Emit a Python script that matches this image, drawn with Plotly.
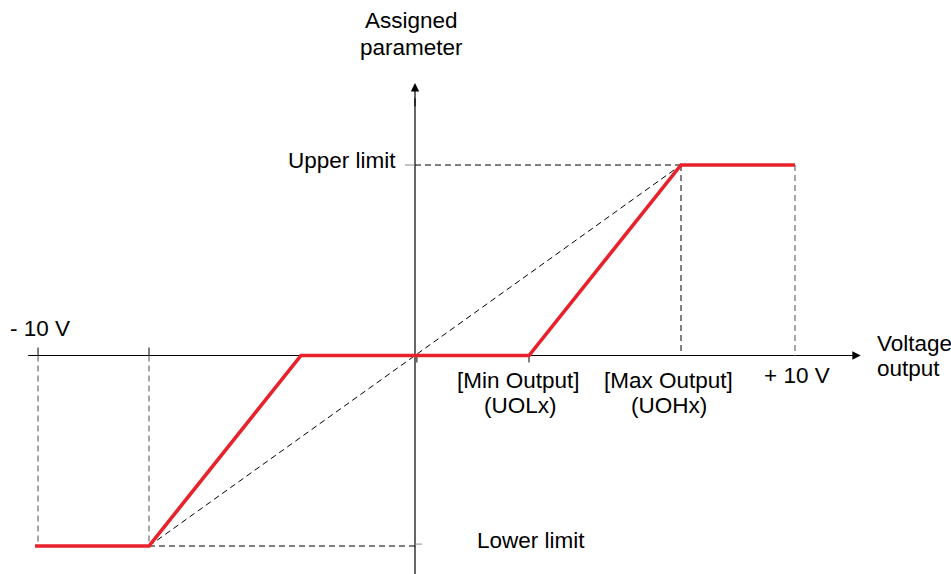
import plotly.graph_objects as go

# ---- data ----
curve_x = [-10, -7, -3, 3, 7, 10]          # voltage output (V)
curve_y = [-1, -1, 0, 0, 1, 1]             # assigned parameter (lower .. upper limit)
v_min, v_max = -10, 10
min_output, max_output = 3, 7
lower_limit, upper_limit = -1, 1
neg_knee = -7

RED = "#e8212b"
GREY = "#8a8a8a"
FONT = "Liberation Sans, Arial, sans-serif"
FS = 22.5

fig = go.Figure()

shapes = []
def line(x0, y0, x1, y1, color="black", width=1, dash=None, layer="below"):
    d = dict(type="line", xref="x", yref="y", x0=x0, y0=y0, x1=x1, y1=y1,
             line=dict(color=color, width=width), layer=layer)
    if dash:
        d["line"]["dash"] = dash
    shapes.append(d)

# axes
line(-10.18, 0, 11.5, 0, width=1.2)
line(0, -1.153, 0, 1.35, width=1.2)

# dashed guides
DASH = "6px,4px"
line(neg_knee, lower_limit, max_output, upper_limit, width=1, dash=DASH)
line(0, upper_limit, max_output, upper_limit, width=1, dash=DASH)
line(max_output, upper_limit, max_output, 0, width=1, dash=DASH)
line(v_max, upper_limit, v_max, 0, color=GREY, width=1.5, dash=DASH)
line(v_min + 0.08, 0, v_min + 0.08, lower_limit, color=GREY, width=1.5, dash=DASH)
line(neg_knee, 0, neg_knee, lower_limit, color=GREY, width=1.5, dash=DASH)
line(neg_knee, lower_limit, 0, lower_limit, width=1, dash=DASH)

# ticks
px_x = 1 / 38.0
px_y = 1 / 190.5
line(v_min + 0.08, 0, v_min + 0.08, 8 * px_y, width=1)
line(neg_knee, 0, neg_knee, 8 * px_y, width=1)
line(0.05, 0, 0.05, -7 * px_y, width=1)
line(min_output, 0, min_output, -7 * px_y, width=1)
line(-10 * px_x, upper_limit, 0, upper_limit, color=GREY, width=1)
line(0, lower_limit + 0.01, 7 * px_x, lower_limit + 0.01, color=GREY, width=1)

fig.add_trace(go.Scatter(x=curve_x, y=curve_y, mode="lines",
                         line=dict(color=RED, width=3.6), hoverinfo="skip"))

ann = []
def text(t, x, y, xanchor="center", xshift=0, yshift=0):
    ann.append(dict(text=t, x=x, y=y, xref="x", yref="y", showarrow=False,
                    xanchor=xanchor, yanchor="middle", xshift=xshift, yshift=yshift,
                    font=dict(family=FONT, size=FS, color="black"), align="center"))

# arrow heads
ann.append(dict(x=11.73, y=0, ax=11.2, ay=0, xref="x", yref="y", axref="x", ayref="y",
                showarrow=True, arrowhead=2, arrowsize=1.4, arrowwidth=1.2,
                arrowcolor="black", text=""))
ann.append(dict(x=0, y=1.43, ax=0, ay=1.30, xref="x", yref="y", axref="x", ayref="y",
                showarrow=True, arrowhead=2, arrowsize=1.4, arrowwidth=1.2,
                arrowcolor="black", text=""))

y_top = 355.5 / 190.5
text("Assigned", 0, y_top, xshift=-4, yshift=-20)
text("parameter", 0, y_top, xshift=-4, yshift=-47)
text("Upper limit", 0, upper_limit, xanchor="right", xshift=-17, yshift=5)
text("- 10 V", v_min, 0, xanchor="left", xshift=-27, yshift=27.5)
text("[Min Output]", min_output, 0, xshift=-11, yshift=-24.5)
text("(UOLx)", min_output, 0, xshift=-9, yshift=-49.5)
text("[Max Output]", max_output, 0, xshift=-13, yshift=-24.5)
text("(UOHx)", max_output, 0, xshift=-12, yshift=-49.5)
text("+ 10 V", v_max, 0, xshift=2, yshift=-19.5)
text("Voltage", 11.73, 0, xanchor="left", xshift=14, yshift=12.5)
text("output", 11.73, 0, xanchor="left", xshift=14, yshift=-12.5)
text("Lower limit", 0, lower_limit, xanchor="left", xshift=60, yshift=6)

fig.update_layout(
    width=951, height=574,
    margin=dict(l=0, r=0, t=0, b=0),
    paper_bgcolor="white", plot_bgcolor="white",
    showlegend=False,
    shapes=shapes, annotations=ann,
    xaxis=dict(range=[-415 / 38.0, 536 / 38.0], visible=False, fixedrange=True),
    yaxis=dict(range=[-218.5 / 190.5, 355.5 / 190.5], visible=False, fixedrange=True),
)

fig.write_html("out.html", config={"displayModeBar": False},
               post_script="document.body.style.margin='0px';")
